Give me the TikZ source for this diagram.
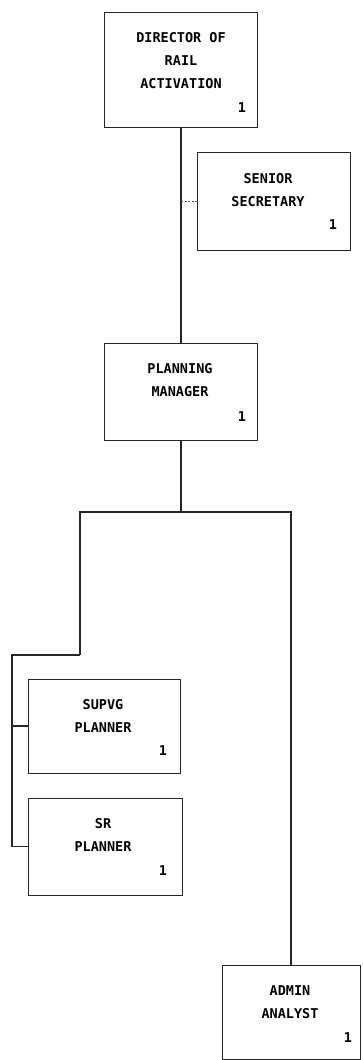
\documentclass[tikz,border=0pt]{standalone}
\usepackage{fontspec}
\newfontfamily\dotfont{DejaVu Sans Mono}
\begin{document}
\begin{tikzpicture}[x=1pt,y=-1pt,
  box/.style={draw=black!85,line width=0.9pt,rectangle,inner sep=0pt},
  lbl/.style={font=\dotfont\bfseries\fontsize{13.5}{23}\selectfont,align=center,inner sep=0pt},
  num/.style={font=\dotfont\bfseries\fontsize{13.5}{16}\selectfont,inner sep=0pt},
  conn/.style={draw=black!85,line width=1.3pt},
  dotconn/.style={draw=black!70,line width=0.8pt,dash pattern=on 2pt off 1.5pt}]
\useasboundingbox (0,0) rectangle (362,1060);

% boxes
\node[box,minimum width=153pt,minimum height=115pt] (dir) at (181,69.5) {};
\node[box,minimum width=153pt,minimum height=98pt] (sec) at (273.5,201) {};
\node[box,minimum width=153pt,minimum height=97pt] (pm) at (181,391.5) {};
\node[box,minimum width=152pt,minimum height=94pt] (sup) at (104,726) {};
\node[box,minimum width=154pt,minimum height=97pt] (sr) at (105,846.5) {};
\node[box,minimum width=138pt,minimum height=94pt] (adm) at (291,1012) {};

% labels
\node[lbl] (dirt) at (181,61) {DIRECTOR OF\\RAIL\\ACTIVATION};
\node[num] (dirn) at (242,108) {1};
\node[lbl] (sect) at (268,190) {SENIOR\\SECRETARY};
\node[num] (secn) at (333,225) {1};
\node[lbl] (pmt) at (180,380.5) {PLANNING\\MANAGER};
\node[num] (pmn) at (242,417) {1};
\node[lbl] (supt) at (103,715.5) {SUPVG\\PLANNER};
\node[num] (supn) at (163,751) {1};
\node[lbl] (srt) at (103,834.5) {SR\\PLANNER};
\node[num] (srn) at (163,871) {1};
\node[lbl] (admt) at (290,1002.5) {ADMIN\\ANALYST};
\node[num] (admn) at (348,1038) {1};

% connector points
\coordinate (tap) at (181,201);
\coordinate (split) at (181,512);
\coordinate (lsplit) at (80,512);
\coordinate (rsplit) at (291,512);
\coordinate (lbend) at (80,655);
\coordinate (lfar) at (12,655);
\coordinate (supin) at (12,726);
\coordinate (srin) at (12,846.5);

% connectors
\draw[conn] (dir.south) -- (pm.north);
\draw[dotconn] (tap) -- (sec.west);
\draw[conn] (pm.south) -- (split);
\draw[conn] (lbend) -- (lsplit) -- (rsplit) -- (adm.north);
\draw[conn] (lbend) -- (lfar) -- (srin) -- (sr.west);
\draw[conn] (supin) -- (sup.west);
\end{tikzpicture}
\end{document}
